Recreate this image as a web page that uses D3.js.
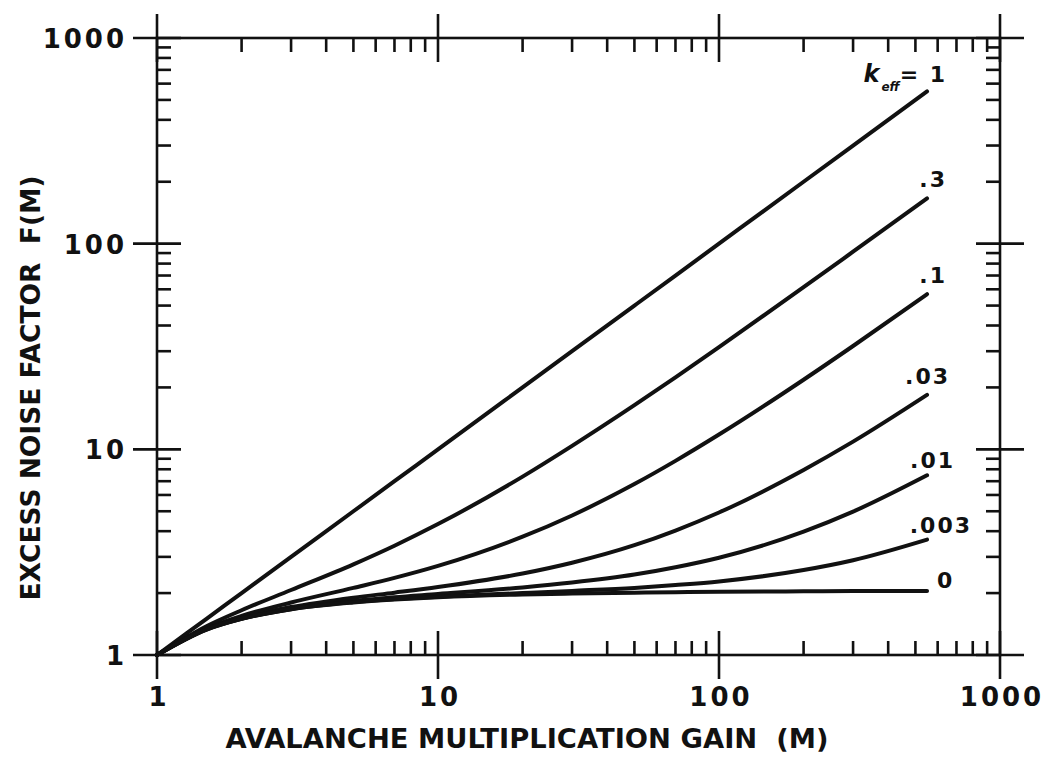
<!DOCTYPE html>
<html>
<head>
<meta charset="utf-8">
<script src="https://cdn.jsdelivr.net/npm/d3@7"></script>
<style>
  body { margin: 0; background: #fff; }
  svg { display: block; }
  text { font-family: "DejaVu Sans", "Liberation Sans", Arial, sans-serif; font-weight: bold; fill: #111; white-space: pre; }
</style>
</head>
<body>
<svg id="chart" width="1048" height="762"></svg>
<script>
const gains = [1, 1.5, 2, 3, 5, 7, 10, 20, 30, 50, 70, 100, 200, 300, 550];

// excess noise factor F(M), one list per k_eff
const fK1    = [1, 1.5, 2, 3, 5, 7, 10, 20, 30, 50, 70, 100, 200, 300, 550];
const fK03   = [1, 1.38, 1.65, 2.07, 2.76, 3.4, 4.33, 7.37, 10.4, 16.4, 22.4, 31.4, 61.4, 91.4, 166];
const fK01   = [1, 1.35, 1.55, 1.8, 2.12, 2.37, 2.71, 3.76, 4.77, 6.78, 8.79, 11.8, 21.8, 31.8, 56.8];
const fK003  = [1, 1.34, 1.52, 1.71, 1.9, 2.01, 2.14, 2.49, 2.81, 3.42, 4.03, 4.93, 7.94, 10.9, 18.4];
const fK001  = [1, 1.335, 1.505, 1.68, 1.83, 1.91, 1.98, 2.13, 2.25, 2.46, 2.67, 2.97, 3.98, 4.98, 7.48];
const fK0003 = [1, 1.33, 1.5, 1.67, 1.81, 1.87, 1.92, 2.0, 2.05, 2.12, 2.19, 2.28, 2.59, 2.89, 3.64];
const fK0    = [1, 1.33, 1.5, 1.67, 1.8, 1.86, 1.91, 1.97, 1.99, 2.01, 2.02, 2.03, 2.04, 2.05, 2.05];

const curveLabels = ["1", ".3", ".1", ".03", ".01", ".003", "0"];
const xTickLabels = ["1", "10", "100", "1000"];
const yTickLabels = ["1", "10", "100", "1000"];

const series = [fK1, fK03, fK01, fK003, fK001, fK0003, fK0];

const svg = d3.select("#chart");
const plotLeft = 157, plotRight = 1000, plotTop = 38, plotBottom = 655;

const x = d3.scaleLog().domain([1, 1000]).range([plotLeft, plotRight]);
const y = d3.scaleLog().domain([1, 1000]).range([plotBottom, plotTop]);

const ink = "#111";
const majorLen = 24, minorLen = 14;

// frame
svg.append("rect")
    .attr("x", plotLeft).attr("y", plotTop)
    .attr("width", plotRight - plotLeft).attr("height", plotBottom - plotTop)
    .attr("fill", "none").attr("stroke", ink).attr("stroke-width", 2.6);

const majors = [1, 10, 100, 1000];
const isMajor = v => majors.includes(v);

const ticks = svg.append("g").attr("stroke", ink).attr("stroke-width", 2.6);

// bottom and top axes: minor ticks inward, decades cross the line
[plotBottom, plotTop].forEach(yy => {
    const dir = yy === plotBottom ? -1 : 1;
    ticks.selectAll(null)
        .data(x.ticks())
        .enter()
        .append("line")
        .attr("x1", d => x(d))
        .attr("x2", d => x(d))
        .attr("y1", d => isMajor(d) ? yy - dir * majorLen : yy)
        .attr("y2", d => yy + dir * (isMajor(d) ? majorLen : minorLen));
});

// left and right axes
[plotLeft, plotRight].forEach(xx => {
    const dir = xx === plotLeft ? 1 : -1;
    ticks.selectAll(null)
        .data(y.ticks())
        .enter()
        .append("line")
        .attr("y1", d => y(d))
        .attr("y2", d => y(d))
        .attr("x1", d => isMajor(d) ? xx - dir * majorLen : xx)
        .attr("x2", d => xx + dir * (isMajor(d) ? majorLen : minorLen));
});

// tick labels
svg.append("g").selectAll("text")
    .data(majors)
    .enter()
    .append("text")
    .attr("x", d => x(d) + 2)
    .attr("y", plotBottom + 51)
    .attr("text-anchor", "middle")
    .attr("font-size", 26)
    .attr("letter-spacing", 3)
    .text((d, i) => xTickLabels[i]);

svg.append("g").selectAll("text")
    .data(majors)
    .enter()
    .append("text")
    .attr("x", plotLeft - 30)
    .attr("y", d => y(d) + 10)
    .attr("text-anchor", "end")
    .attr("font-size", 26)
    .attr("letter-spacing", 3)
    .text((d, i) => yTickLabels[i]);

// axis titles
svg.append("text")
    .attr("x", 527)
    .attr("y", 748)
    .attr("text-anchor", "middle")
    .attr("font-size", 26.5)
    .attr("textLength", 603)
    .attr("lengthAdjust", "spacingAndGlyphs")
    .text("AVALANCHE MULTIPLICATION GAIN  (M)");

svg.append("text")
    .attr("transform", "translate(40,388) rotate(-90)")
    .attr("text-anchor", "middle")
    .attr("font-size", 26.5)
    .attr("textLength", 425)
    .attr("lengthAdjust", "spacingAndGlyphs")
    .text("EXCESS NOISE FACTOR  F(M)");

// curves
const line = d3.line()
    .x((d, i) => x(gains[i]))
    .y(d => y(d))
    .curve(d3.curveMonotoneX);

svg.append("g").selectAll("path")
    .data(series)
    .enter()
    .append("path")
    .attr("d", line)
    .attr("fill", "none")
    .attr("stroke", ink)
    .attr("stroke-width", 4)
    .attr("stroke-linecap", "round");

// curve labels, placed from each curve's end point
const labelOffsets = [[20, -9], [20, -11], [20, -11], [23, -11], [28, -7], [45, -7], [10, -3]];
const lastGain = gains[gains.length - 1];

series.forEach((s, i) => {
    const ex = x(lastGain), ey = y(s[s.length - 1]);
    const [dx, dy] = labelOffsets[i];
    const t = svg.append("text")
        .attr("x", ex + dx)
        .attr("y", ey + dy)
        .attr("text-anchor", i === 6 ? "start" : "end")
        .attr("font-size", 22)
        .attr("letter-spacing", 2);
    if (i === 0) {
        t.append("tspan").attr("font-style", "italic").attr("font-size", 24).text("k");
        t.append("tspan").attr("font-style", "italic").attr("font-size", 12).attr("dy", 9).attr("letter-spacing", 0).text("eff");
        t.append("tspan").attr("dy", -9).text("= " + curveLabels[i]);
    } else {
        t.text(curveLabels[i]);
    }
});
</script>
</body>
</html>
